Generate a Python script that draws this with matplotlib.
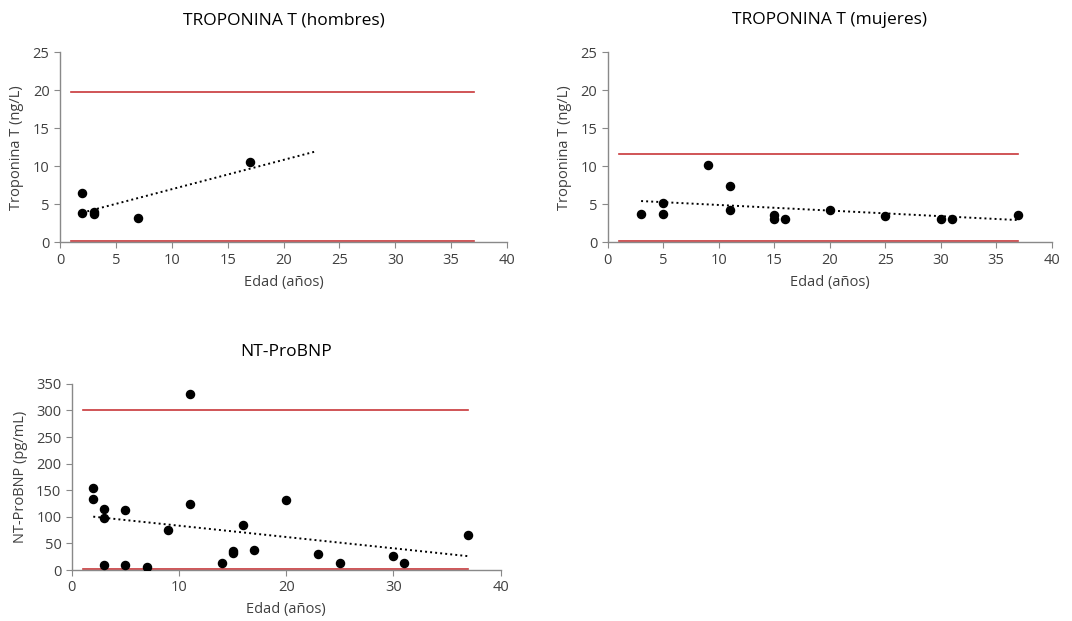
import numpy as np
import matplotlib
matplotlib.use("Agg")
from matplotlib import pyplot as plt

plt.rcParams['font.family'] = ['Open Sans', 'DejaVu Sans']

# troponina T, hombres
edad_h = [2, 2, 3, 3, 7, 17]
trop_h = [6.5, 3.8, 4.0, 3.7, 3.2, 10.6]
lim_h = [0.1, 19.8]
trend_h = (2, 23)

# troponina T, mujeres
edad_m = [3, 5, 5, 9, 11, 11, 15, 15, 16, 20, 25, 30, 31, 37]
trop_m = [3.7, 5.2, 3.7, 10.2, 7.4, 4.2, 3.6, 3.1, 3.1, 4.2, 3.5, 3.1, 3.1, 3.6]
lim_m = [0.1, 11.6]
trend_m = (3, 37)

# NT-ProBNP
edad_b = [2, 2, 3, 3, 3, 5, 5, 7, 9, 11, 11, 14, 15, 15, 16, 17, 20, 23, 25, 30, 31, 37]
bnp = [155, 133, 115, 98, 10, 113, 10, 6, 75, 330, 124, 14, 35, 33, 84, 38, 131, 31, 14, 27, 14, 66]
lim_b = [1.5, 300]
trend_b = (2, 37)

lim_x = (1, 37)
grey = '#898989'
red = '#c8373a'
txt = '#404040'


def panel(ax, x, y, lims, trend, title, ylabel, yticks, xticks):
    for v in lims:
        ax.plot(lim_x, [v, v], color=red, lw=1.2, zorder=1)
    k, b = np.polyfit(x, y, 1)
    tx = np.array(trend)
    ax.plot(tx, k * tx + b, color='black', ls=(0, (1, 1.6)), lw=1.4, zorder=2)
    ax.scatter(x, y, s=34, color='black', zorder=3)
    ax.set_xlim(xticks[0], xticks[-1])
    ax.set_ylim(yticks[0], yticks[-1])
    ax.set_xticks(xticks)
    ax.set_yticks(yticks)
    for s in ['top', 'right']:
        ax.spines[s].set_visible(False)
    for s in ['left', 'bottom']:
        ax.spines[s].set_color(grey)
        ax.spines[s].set_linewidth(1.0)
    ax.tick_params(colors=grey, labelcolor=txt, labelsize=10.5, length=4)
    ax.set_title(title, fontsize=12.5, pad=20, color='black')
    ax.set_xlabel('Edad (años)', fontsize=10.5, labelpad=5, color=txt)
    ax.set_ylabel(ylabel, fontsize=10.5, labelpad=6, color=txt)


fig = plt.figure(figsize=(10.72, 6.21), dpi=100)
ax1 = fig.add_axes([0.056, 0.610, 0.417, 0.306])
ax2 = fig.add_axes([0.567, 0.610, 0.414, 0.306])
ax3 = fig.add_axes([0.067, 0.082, 0.400, 0.300])

panel(ax1, edad_h, trop_h, lim_h, trend_h, 'TROPONINA T (hombres)',
      'Troponina T (ng/L)', np.arange(0, 26, 5), np.arange(0, 41, 5))
panel(ax2, edad_m, trop_m, lim_m, trend_m, 'TROPONINA T (mujeres)',
      'Troponina T (ng/L)', np.arange(0, 26, 5), np.arange(0, 41, 5))
panel(ax3, edad_b, bnp, lim_b, trend_b, 'NT-ProBNP',
      'NT-ProBNP (pg/mL)', np.arange(0, 351, 50), np.arange(0, 41, 10))

fig.savefig('out.png', dpi=100)
